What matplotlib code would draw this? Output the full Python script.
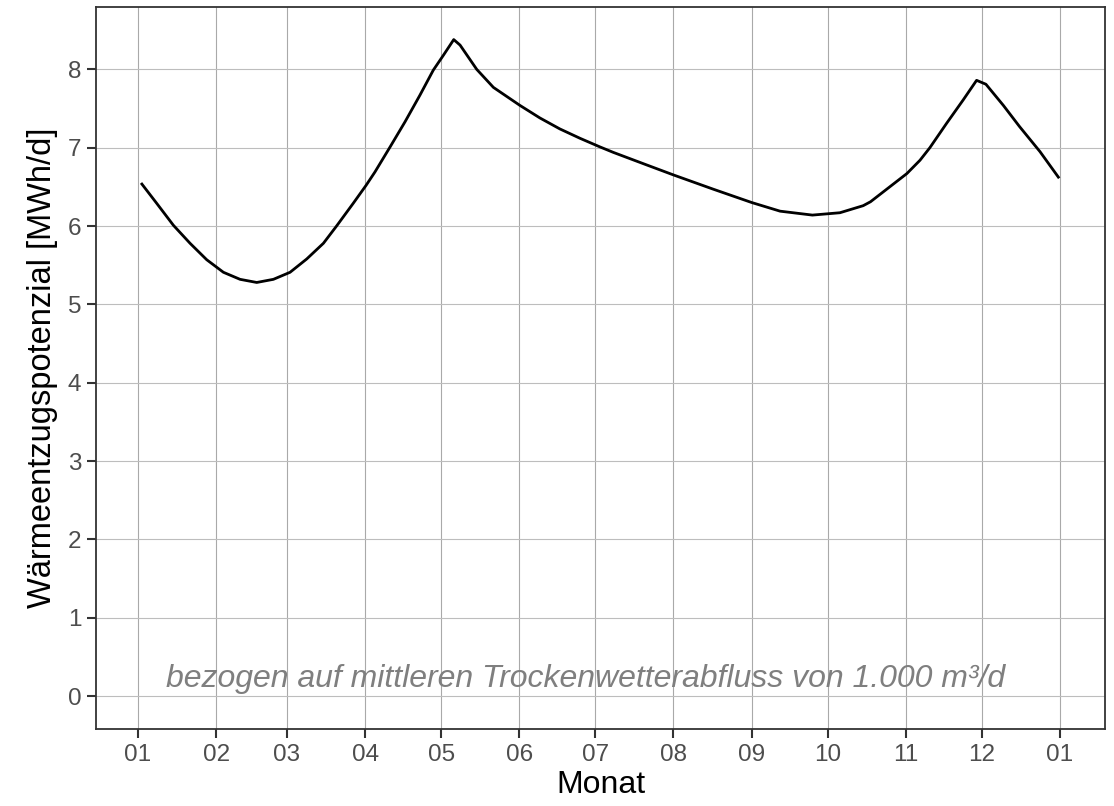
import matplotlib.pyplot as plt
import matplotlib.dates as mdates
import pandas as pd

# Werte: Tage seit 1. Januar, Potenzial in MWh/d
tage = [1.2, 7.4, 14.0, 20.6, 27.2, 33.8, 40.4, 47.0, 53.6, 60.2,
        66.8, 73.4, 78.6, 85.2, 90.3, 93.8, 99.8, 105.7, 111.6, 116.9,
        120.9, 125.0, 127.5, 134.1, 140.7, 151.2, 159.1, 167.0, 175.0, 182.9,
        188.2, 201.4, 212.2, 227.8, 243.0, 254.2, 267.0, 277.9, 287.1, 290.0,
        296.4, 304.4, 309.6, 313.5, 320.1, 326.7, 332.0, 335.7, 342.6, 349.0,
        357.1, 364.7]
werte = [6.55, 6.29, 6.01, 5.78, 5.57, 5.41, 5.32, 5.28, 5.32, 5.41,
         5.58, 5.78, 6.00, 6.29, 6.52, 6.69, 7.01, 7.33, 7.67, 7.99,
         8.18, 8.38, 8.31, 8.00, 7.77, 7.54, 7.38, 7.24, 7.12, 7.01,
         6.94, 6.78, 6.65, 6.47, 6.30, 6.19, 6.14, 6.17, 6.26, 6.31,
         6.47, 6.67, 6.84, 7.00, 7.31, 7.61, 7.86, 7.81, 7.54, 7.27,
         6.95, 6.61]
monate = pd.date_range("2023-01-01", "2024-01-01", freq="MS")

x = pd.Timestamp("2023-01-01") + pd.to_timedelta(tage, unit="D")

plt.rcParams['font.family'] = ['Liberation Sans', 'DejaVu Sans']

fig = plt.figure(figsize=(11.14, 8.06), dpi=100)
ax = fig.add_axes([0.0862, 0.0955, 0.9057, 0.8962])

ax.plot(x, werte, color='black', linewidth=2.0, zorder=3,
        solid_joinstyle='round', solid_capstyle='butt')

ax.set_xticks(monate)
ax.xaxis.set_major_formatter(mdates.DateFormatter('%m'))
ax.set_xlim(pd.Timestamp("2022-12-15 09:00"), pd.Timestamp("2024-01-18 20:00"))
ax.set_ylim(-0.42, 8.80)
ax.set_yticks(range(0, 9))

ax.grid(True, axis='x', color='#a9a9a9', linewidth=0.8)
ax.grid(True, axis='y', color='#bdbdbd', linewidth=0.8)
ax.set_axisbelow(True)
for s in ax.spines.values():
    s.set_color('#333333')
    s.set_linewidth(1.3)
ax.tick_params(axis='both', colors='#333333', width=1.5, length=6.5,
               labelsize=17.5, labelcolor='#4d4d4d', pad=4)

ax.set_xlabel('Monat', fontsize=23, color='black', labelpad=3)
ax.set_ylabel('Wärmeentzugspotenzial [MWh/d]', fontsize=23.5, color='black', labelpad=7)

ax.text(pd.Timestamp("2023-06-27"), 0.22,
        'bezogen auf mittleren Trockenwetterabfluss von 1.000 m³/d',
        ha='center', va='center', fontsize=23, style='italic', color='#7f7f7f')

fig.savefig('out.png', dpi=100)
